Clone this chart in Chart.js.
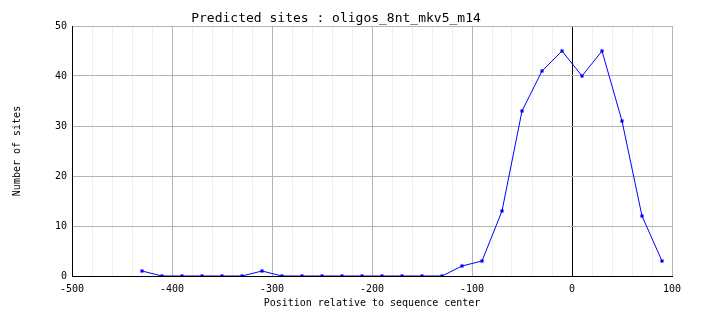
<!DOCTYPE html>
<html>
<head>
<meta charset="utf-8">
<script src="https://cdn.jsdelivr.net/npm/chart.js@4.4.1/dist/chart.umd.min.js"></script>
<style>
  html, body { margin: 0; padding: 0; background: #fff; }
  #wrap { width: 704px; height: 328px; }
</style>
</head>
<body>
<div id="wrap"><canvas id="sitesChart" width="704" height="328"></canvas></div>
<script>
// positions (window centres) and site counts
const positions = [-430, -410, -390, -370, -350, -330, -310, -290, -270, -250, -230, -210, -190, -170, -150, -130, -110, -90, -70, -50, -30, -10, 10, 30, 50, 70, 90];
const siteCounts = [1, 0, 0, 0, 0, 0, 1, 0, 0, 0, 0, 0, 0, 0, 0, 0, 2, 3, 13, 33, 41, 45, 40, 45, 31, 12, 3];
const xTickLabels = [-500, -400, -300, -200, -100, 0, 100];
const yTickLabels = [0, 10, 20, 30, 40, 50];

Chart.defaults.font.family = "'DejaVu Sans Mono', monospace";
Chart.defaults.color = '#000';

const points = positions.map((p, i) => ({ x: p, y: siteCounts[i] }));

const ctx = document.getElementById('sitesChart').getContext('2d');
const sitesChart = new Chart(ctx, {
    type: 'line',
    data: {
        datasets: [{
            label: 'sites',
            data: points,
            borderColor: '#0000ff',
            backgroundColor: '#0000ff',
            borderWidth: 1,
            tension: 0,
            pointStyle: 'rect',
            pointRadius: 2.2,
            pointBorderWidth: 0,
            fill: false
        }]
    },
    options: {
        responsive: false,
        animation: false,
        layout: { padding: { left: 0, right: 32, top: 0, bottom: 0 } },
        plugins: {
            legend: { display: false },
            tooltip: { enabled: false },
            title: {
                display: true,
                text: 'Predicted sites : oligos_8nt_mkv5_m14',
                font: { size: 13, weight: 'normal', lineHeight: 1 },
                padding: { top: 12, bottom: 1 },
                color: '#000'
            }
        },
        scales: {
            x: {
                type: 'linear',
                min: -500,
                max: 100,
                afterFit: (s) => { s.height = 52; },
                ticks: {
                    stepSize: 20,
                    autoSkip: false,
                    maxRotation: 0,
                    padding: 7,
                    font: { size: 10 },
                    callback: (v) => xTickLabels.includes(v) ? String(v) : ''
                },
                grid: {
                    drawTicks: false,
                    color: (c) => {
                        const v = c.tick.value;
                        if (v === 0) return '#000';
                        return v % 100 === 0 ? '#b4b4b4' : '#eeeeee';
                    }
                },
                border: { color: '#000', width: 1 },
                title: {
                    display: true,
                    text: 'Position relative to sequence center',
                    font: { size: 10 },
                    padding: { top: 2, bottom: 19 }
                }
            },
            y: {
                min: 0,
                max: 50,
                afterFit: (s) => { s.width = 72; },
                ticks: {
                    stepSize: 10,
                    padding: 5,
                    font: { size: 10 },
                    callback: (v) => yTickLabels.includes(v) ? String(v) : ''
                },
                grid: { drawTicks: false, color: '#b4b4b4' },
                border: { color: '#000', width: 1 },
                title: {
                    display: true,
                    text: 'Number of sites',
                    font: { size: 10 },
                    padding: { top: 11, bottom: 0 }
                }
            }
        }
    }
});
</script>
</body>
</html>
